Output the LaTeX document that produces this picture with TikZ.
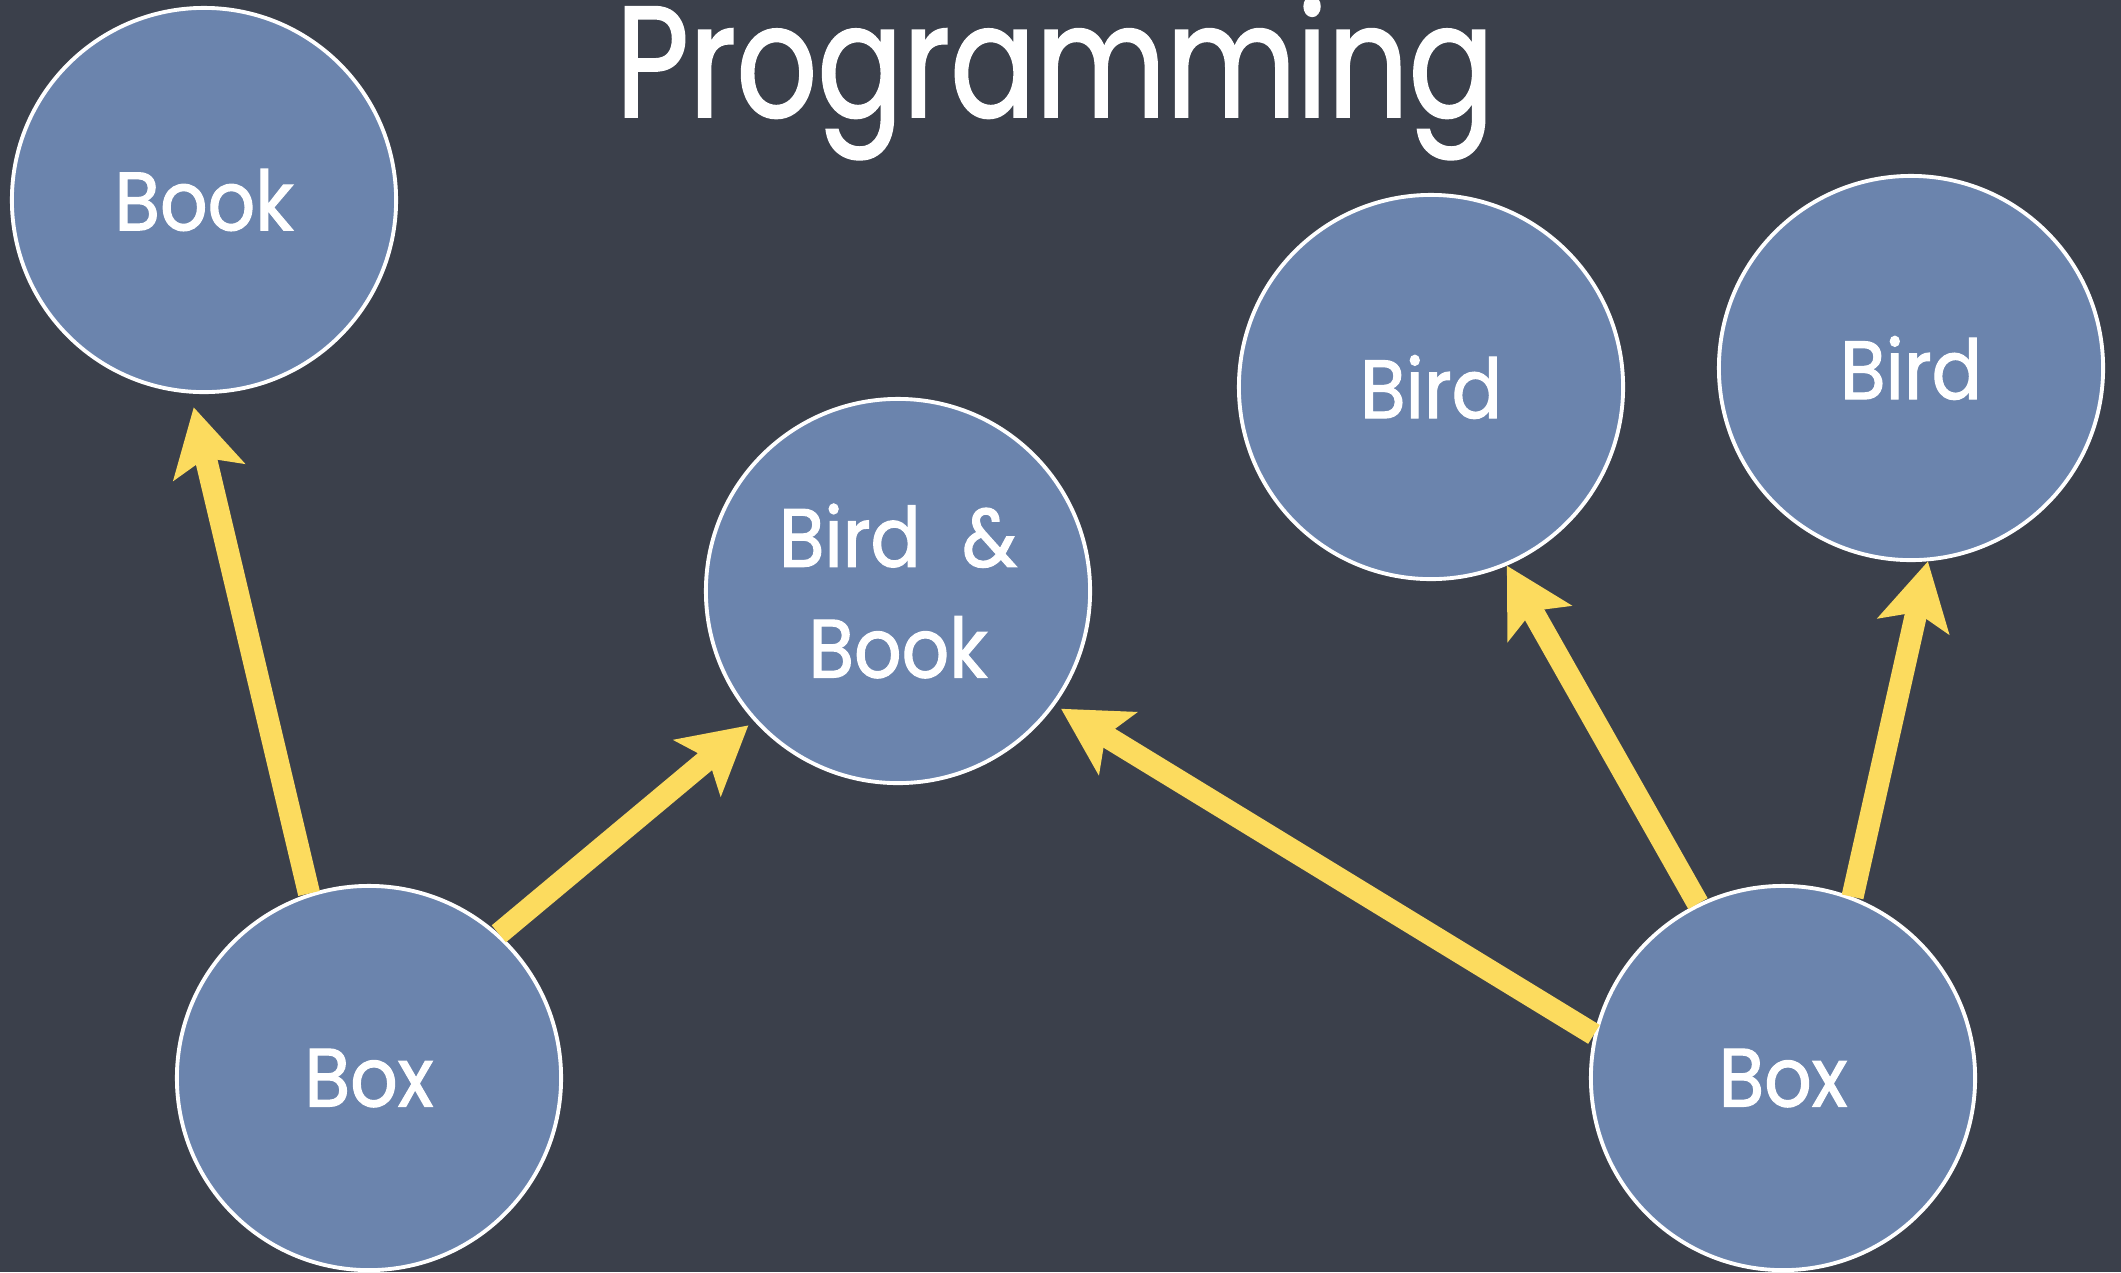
\documentclass[tikz,border=0pt]{standalone}
\usepackage{fontspec}
\setmainfont{Poppins}[FakeStretch=0.9, FakeBold=1.4]
\newfontfamily\headfont{Poppins}[FakeStretch=0.8, FakeBold=1.2]
\usetikzlibrary{arrows.meta}
\definecolor{board}{HTML}{3B404B}
\definecolor{disc}{HTML}{6B84AD}
\definecolor{chalkyellow}{HTML}{FCDB5E}
\tikzset{
  bubble/.style={circle, draw=white, line width=1.1pt, fill=disc,
    minimum size=3.84cm, inner sep=0pt, text=white, align=center,
    font=\fontsize{23.5}{31.5}\selectfont},
  link/.style={draw=chalkyellow, line width=6.3pt,
    -{Stealth[length=0.66cm, width=0.72cm, inset=0.14cm, fill=chalkyellow]}}
}
\begin{document}
\begin{tikzpicture}[x=0.01cm, y=-0.01cm]
  \useasboundingbox[fill=board] (0,0) rectangle (2121,1272);
  \node[text=white, anchor=base, font=\headfont\fontsize{45}{50}\selectfont] (title) at (1055,117) {Programming};

  \node[bubble] (book)   at (204,200)  {Book};
  \node[bubble] (both)   at (898,591)  {Bird\hspace{0.5em}\&\\Book};
  \node[bubble] (birdA)  at (1431,387) {Bird};
  \node[bubble] (birdB)  at (1911,368) {Bird};
  \node[bubble] (boxA)   at (369,1078) {Box};
  \node[bubble] (boxB)   at (1783,1078) {Box};

  \draw[link, shorten >=4pt] (boxA.108) -- (book.-94);
  \draw[link, shorten >=2pt] (boxA.48) -- (both.222);
  \draw[link, shorten >=2pt] (boxB.167) -- (both.-36);
  \draw[link] (boxB.116) -- (birdA.-67);
  \draw[link] (boxB.69.5) -- (birdB.-85);
\end{tikzpicture}
\end{document}
